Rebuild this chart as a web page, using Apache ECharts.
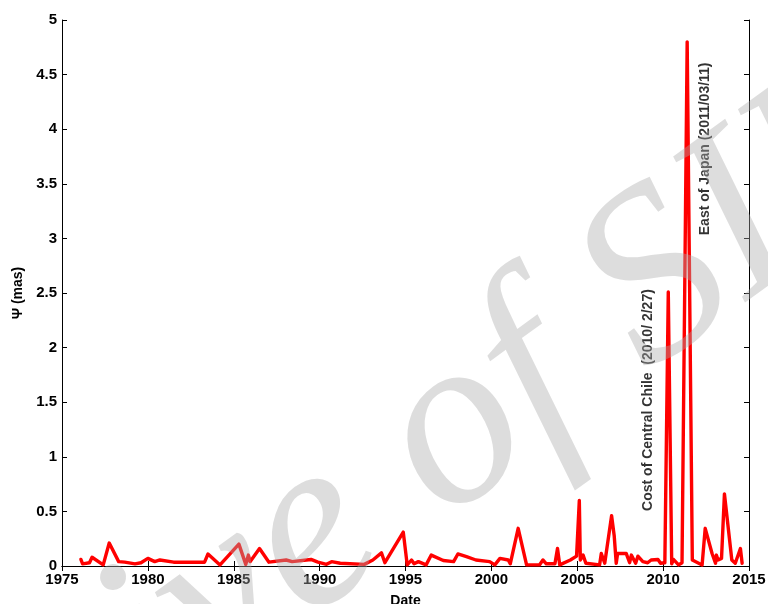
<!DOCTYPE html>
<html>
<head>
<meta charset="utf-8">
<script src="https://cdn.jsdelivr.net/npm/echarts@6/dist/echarts.min.js"></script>
<style>
  html, body { margin: 0; padding: 0; background: #fff; }
  #chart { width: 768px; height: 604px; }
</style>
</head>
<body>
<div id="chart"></div>
<script>
// Observation epochs (decimal years) and the Ψ signal in mas
const dates = [
  1976.1, 1976.2, 1976.6, 1976.75, 1977.4, 1977.75, 1978.3, 1978.65, 1979.25, 1979.6,
  1980.0, 1980.4, 1980.7, 1981.5, 1983.3, 1983.5, 1984.2, 1985.3, 1985.7, 1985.85,
  1985.95, 1986.5, 1987.05, 1988.05, 1988.4, 1989.5, 1989.9, 1990.4, 1990.7, 1991.2,
  1992.6, 1993.1, 1993.6, 1993.8, 1994.87, 1995.1, 1995.35, 1995.5, 1995.75, 1996.2,
  1996.5, 1997.2, 1997.8, 1998.05, 1998.55, 1999.1, 1999.9, 2000.2, 2000.5, 2000.98,
  2001.1, 2001.56, 2002.05, 2002.8, 2003.0, 2003.2, 2003.7, 2003.85, 2003.98, 2004.6,
  2004.96, 2005.12, 2005.18, 2005.34, 2005.5, 2006.3, 2006.4, 2006.6, 2007.0, 2007.15,
  2007.27, 2007.35, 2007.85, 2008.05, 2008.15, 2008.4, 2008.53, 2008.82, 2009.1, 2009.3,
  2009.7, 2009.85, 2010.1, 2010.3, 2010.5, 2010.6, 2010.9, 2011.1, 2011.4, 2011.7,
  2012.27, 2012.45, 2012.85, 2013.05, 2013.1, 2013.2, 2013.4, 2013.57, 2014.0, 2014.2,
  2014.5, 2014.6
];
const psi = [
  0.06, 0.02, 0.03, 0.08, 0.01, 0.21, 0.04, 0.035, 0.02, 0.03,
  0.07, 0.04, 0.055, 0.035, 0.035, 0.11, 0.01, 0.2, 0.015, 0.1,
  0.04, 0.16, 0.035, 0.055, 0.04, 0.06, 0.035, 0.015, 0.04, 0.025,
  0.015, 0.055, 0.12, 0.03, 0.31, 0.01, 0.055, 0.02, 0.04, 0.01,
  0.1, 0.05, 0.04, 0.11, 0.085, 0.055, 0.04, 0.01, 0.07, 0.055,
  0.02, 0.345, 0.01, 0.01, 0.055, 0.02, 0.02, 0.16, 0.01, 0.055,
  0.09, 0.6, 0.055, 0.1, 0.025, 0.01, 0.115, 0.025, 0.46, 0.28,
  0.025, 0.115, 0.115, 0.03, 0.1, 0.025, 0.09, 0.04, 0.03, 0.055,
  0.06, 0.025, 0.03, 2.51, 0.02, 0.06, 0.01, 0.03, 4.8, 0.055,
  0.01, 0.345, 0.115, 0.025, 0.1, 0.055, 0.07, 0.66, 0.055, 0.025,
  0.16, 0.025
];

// Axis tick settings
const xTicks = { min: 1975, max: 2015, step: 5 };
const yTicks = { min: 0, max: 5, step: 0.5 };

// Event annotations: [x, y, text]
const events = [
  [2009.1, 1.52, 'Cost of Central Chile  (2010/ 2/27)'],
  [2012.45, 3.82, 'East of Japan (2011/03/11)']
];

const FONT = 'Liberation Sans, Arial, sans-serif';
const chart = echarts.init(document.getElementById('chart'), null, { renderer: 'canvas' });

const grid = { left: 62, right: 19, top: 20, bottom: 38, containLabel: false, outerBoundsMode: 'none' };
const baseAxisLine = { show: true, lineStyle: { color: '#000', width: 1 } };
const tickIn = { show: true, inside: true, length: 5, lineStyle: { color: '#000' } };

chart.setOption({
  animation: false,
  backgroundColor: '#fff',
  grid: grid,
  xAxis: [
    {
      type: 'value', min: xTicks.min, max: xTicks.max, interval: xTicks.step,
      position: 'bottom',
      name: 'Date', nameLocation: 'middle', nameGap: 28,
      nameTextStyle: { fontFamily: FONT, fontWeight: 'bold', fontSize: 14, color: '#000' },
      axisLine: baseAxisLine, axisTick: tickIn,
      axisLabel: { fontFamily: FONT, fontWeight: 'bold', fontSize: 15, color: '#000', margin: 6,
                   formatter: v => String(v) },
      splitLine: { show: false }
    },
    {
      type: 'value', min: xTicks.min, max: xTicks.max, interval: xTicks.step,
      position: 'top',
      axisLine: baseAxisLine, axisTick: tickIn,
      axisLabel: { show: false }, splitLine: { show: false }
    }
  ],
  yAxis: [
    {
      type: 'value', min: yTicks.min, max: yTicks.max, interval: yTicks.step,
      position: 'left',
      name: 'Ψ (mas)', nameLocation: 'middle', nameGap: 32, nameRotate: 90,
      nameTextStyle: { fontFamily: FONT, fontWeight: 'bold', fontSize: 14, color: '#000' },
      axisLine: baseAxisLine, axisTick: tickIn,
      axisLabel: { fontFamily: FONT, fontWeight: 'bold', fontSize: 15, color: '#000', margin: 5,
                   formatter: v => String(v) },
      splitLine: { show: false }
    },
    {
      type: 'value', min: yTicks.min, max: yTicks.max, interval: yTicks.step,
      position: 'right',
      axisLine: baseAxisLine, axisTick: tickIn,
      axisLabel: { show: false }, splitLine: { show: false }
    }
  ],
  series: [
    {
      type: 'line',
      data: dates.map((d, i) => [d, psi[i]]),
      showSymbol: false,
      lineStyle: { color: '#ff0000', width: 3.4, join: 'round', cap: 'round' },
      z: 3
    },
    {
      type: 'scatter',
      data: events.map(e => [e[0], e[1]]),
      symbolSize: 0,
      label: {
        show: true, position: 'inside', rotate: 90,
        formatter: p => events[p.dataIndex][2],
        fontFamily: FONT, fontWeight: 'bold', fontSize: 14, color: '#000'
      },
      z: 4
    }
  ],
  graphic: [
    {
      type: 'text',
      z: 100,
      x: 989, y: 197,
      rotation: 36 * Math.PI / 180,
      style: {
        text: 'Archive of SID',
        font: 'italic 245px "Liberation Serif", "DejaVu Serif", serif',
        fill: 'rgba(170,170,170,0.4)',
        textAlign: 'right',
        textVerticalAlign: 'bottom'
      },
      silent: true
    }
  ]
});
</script>
</body>
</html>
